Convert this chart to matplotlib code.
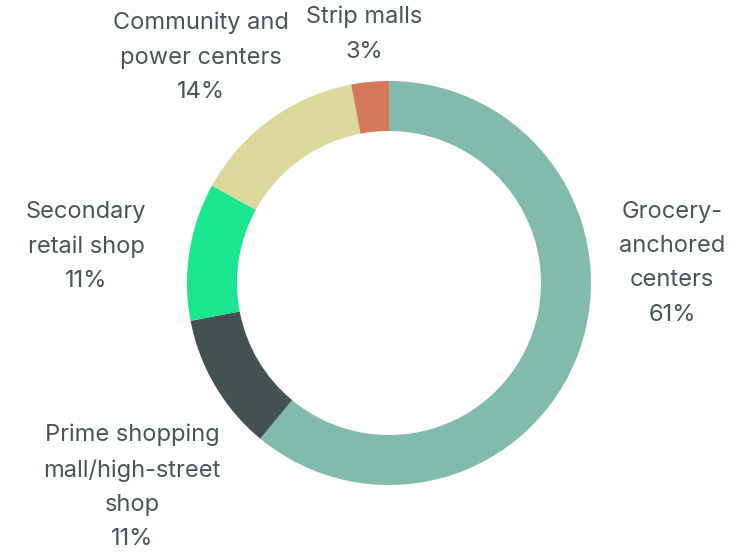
import matplotlib
matplotlib.use("Agg")
import matplotlib.pyplot as plt

# Retail sub-sector shares (percent)
categories = ["Grocery-\nanchored\ncenters",
              "Prime shopping\nmall/high-street\nshop",
              "Secondary\nretail shop",
              "Community and\npower centers",
              "Strip malls"]
shares = [61, 11, 11, 14, 3]
colors = ["#82bbab", "#435152", "#1ae68f", "#dcd89b", "#d4795a"]

# label anchor points in pixel coords (x, top-of-text y)
label_pos = [(672, 201), (132, 424), (86, 201), (201, 12), (364, 6)]

W, H = 754, 554
fig = plt.figure(figsize=(W / 100, H / 100), dpi=100)
ax = fig.add_axes([0, 0, 1, 1])

cx, cy = 389, H - 283
ax.pie(shares, colors=colors, startangle=90, counterclock=False,
       radius=202, center=(cx, cy), frame=True,
       wedgeprops=dict(width=50, linewidth=0))
ax.set_xlim(0, W)
ax.set_ylim(0, H)
ax.set_aspect("equal")
ax.axis("off")

for name, val, (x, y) in zip(categories, shares, label_pos):
    ax.text(x, H - y, f"{name}\n{val}%", ha="center", va="top",
            multialignment="center", fontsize=17, family="Inter",
            color="#465656", linespacing=1.72)

fig.savefig("out.png", dpi=100)
